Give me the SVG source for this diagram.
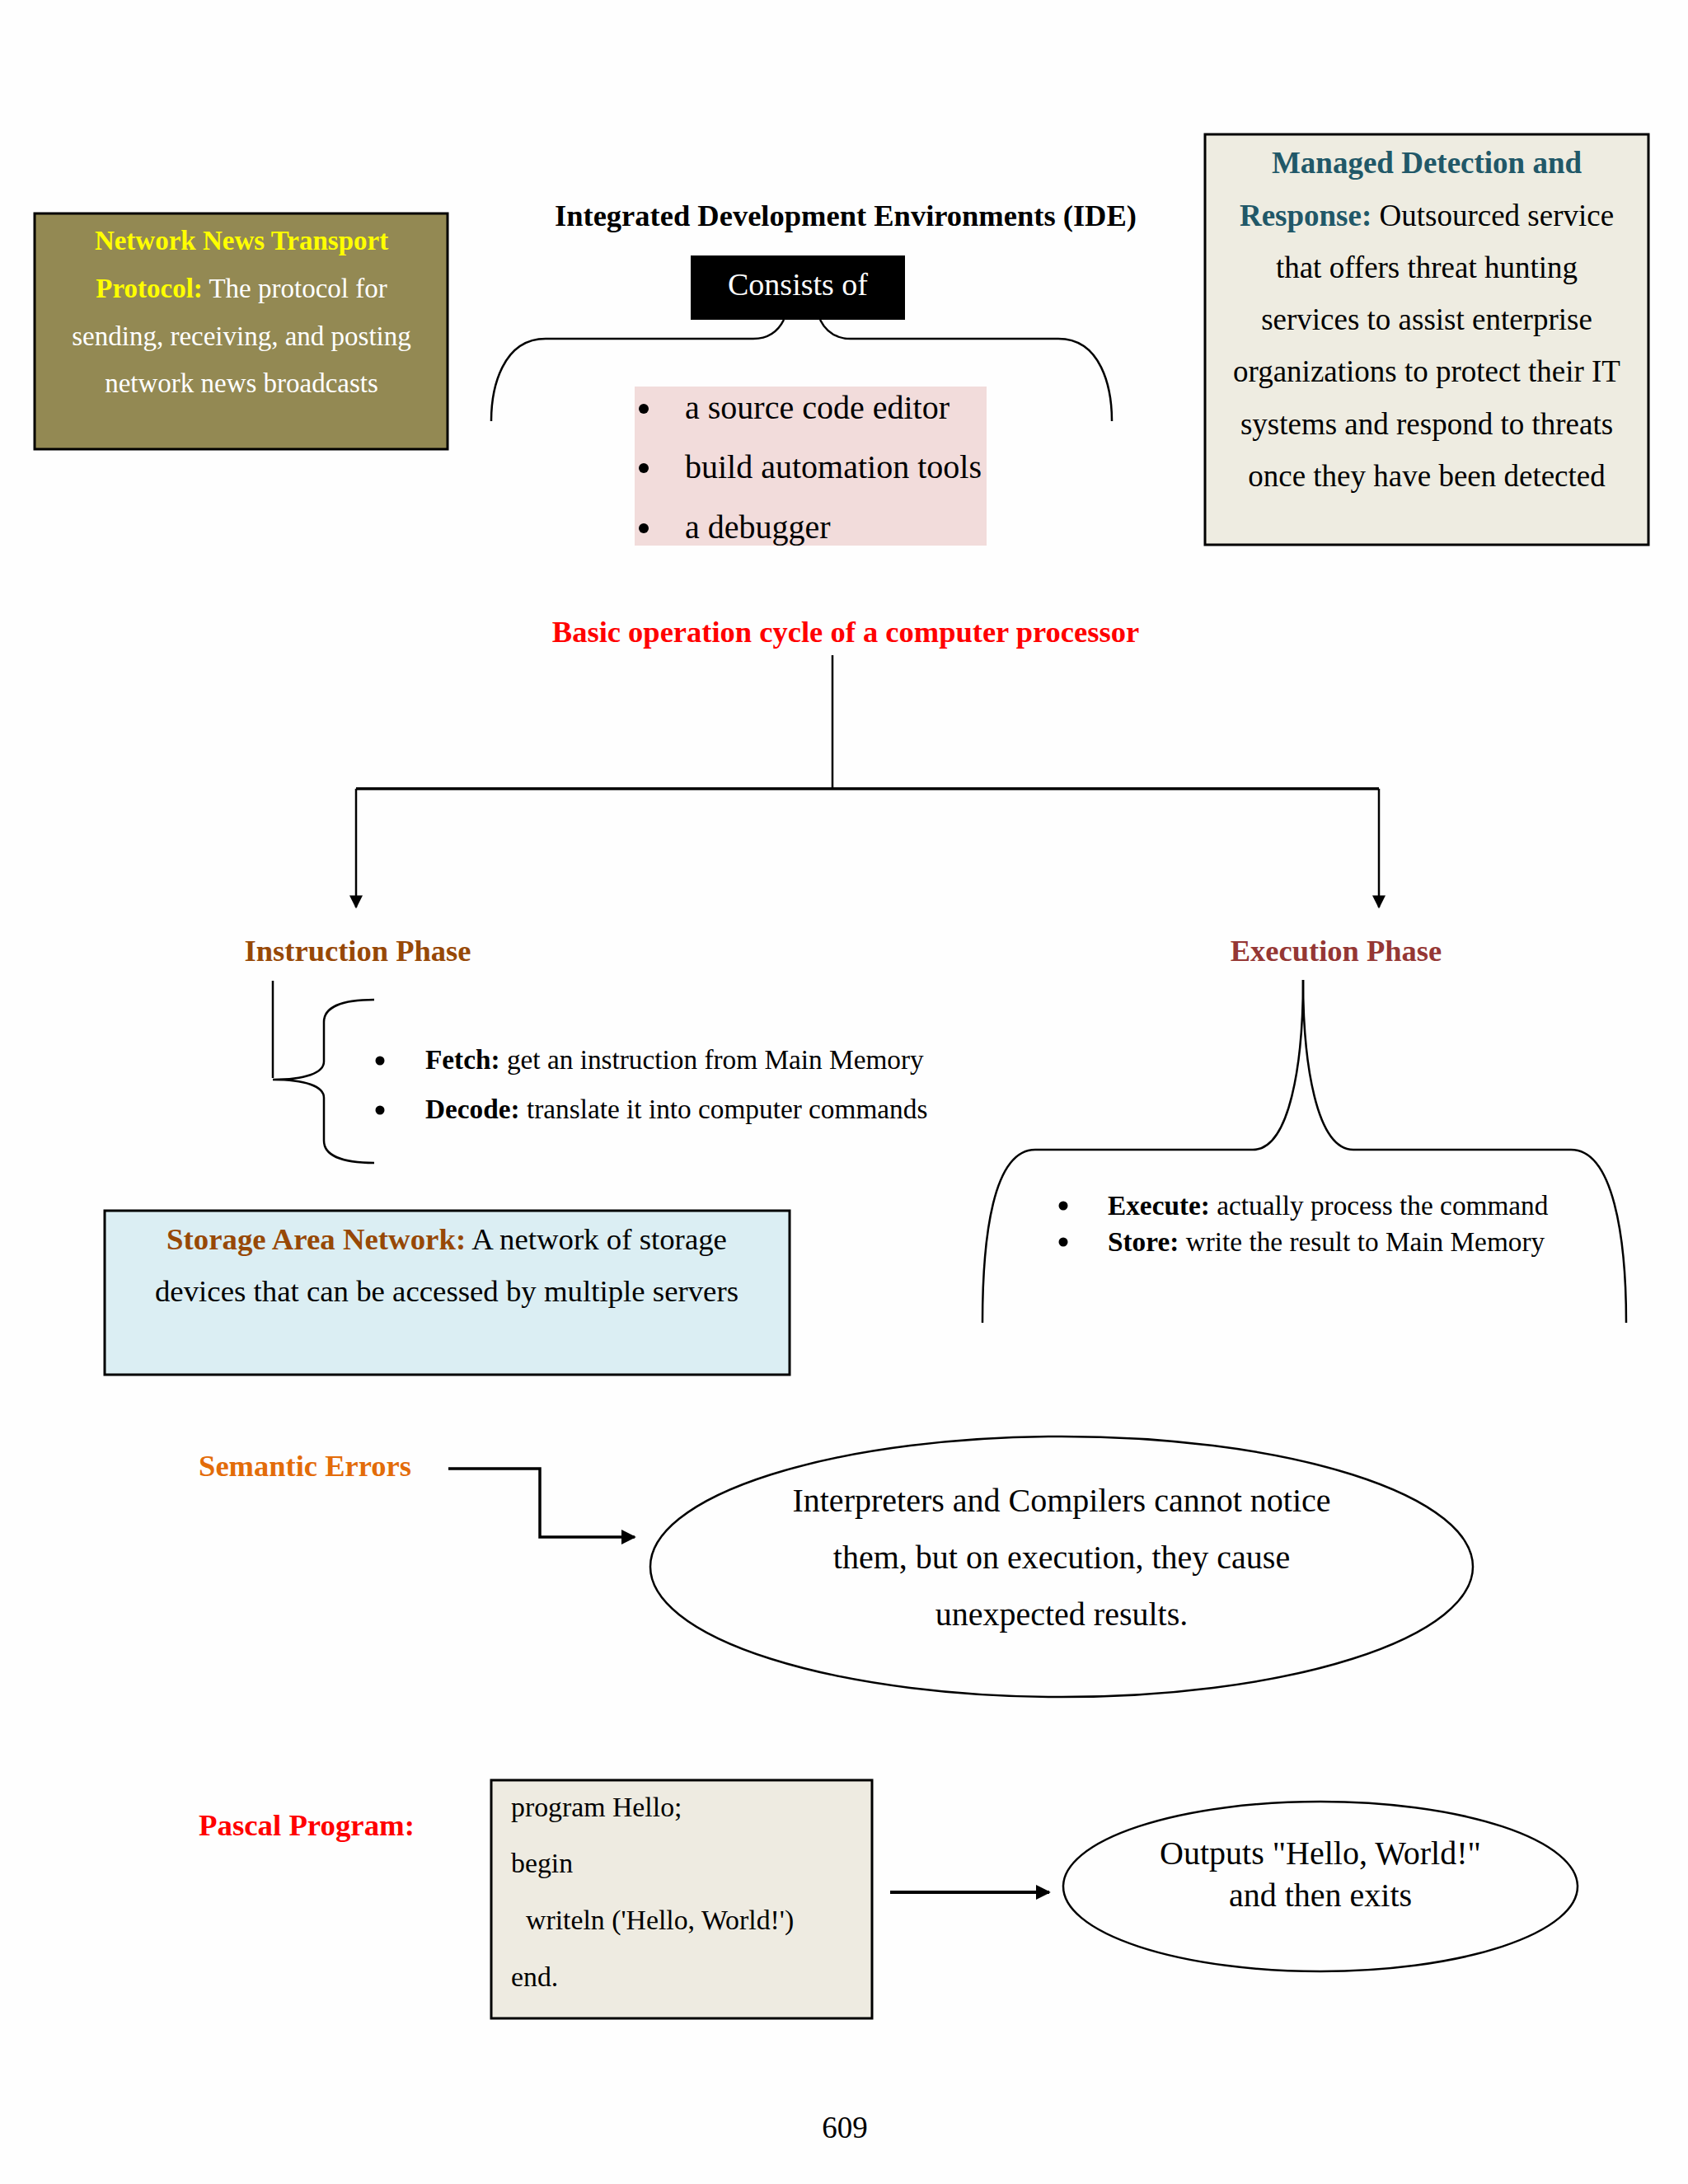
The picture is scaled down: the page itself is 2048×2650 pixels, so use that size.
<svg xmlns="http://www.w3.org/2000/svg" width="2048" height="2650" viewBox="0 0 2048 2650">
<defs>
<style>
text{font-family:"Liberation Serif","Times New Roman",serif;fill:#000}
.b{font-weight:bold}
.box{stroke:#000;stroke-width:3}
.ln{fill:none;stroke:#000;stroke-width:2.5}
.c{text-anchor:middle}
</style>
<marker id="ah" viewBox="0 0 10 10" refX="9" refY="5" markerWidth="22" markerHeight="16" markerUnits="userSpaceOnUse" orient="auto">
<path d="M0,0 L10,5 L0,10 Z" fill="#000"/>
</marker>
<marker id="ah2" viewBox="0 0 10 10" refX="9" refY="5" markerWidth="18" markerHeight="18" markerUnits="userSpaceOnUse" orient="auto">
<path d="M0,0 L10,5 L0,10 Z" fill="#000"/>
</marker>
</defs>
<rect width="2048" height="2650" fill="#fefefe"/>

<g id="nntp">
<rect class="box" x="42" y="259" width="501" height="286" fill="#938953"/>
<text class="c" x="293" y="303" font-size="33"><tspan class="b" style="fill:#ffff00">Network News Transport</tspan></text>
<text class="c" x="293" y="361" font-size="33"><tspan class="b" style="fill:#ffff00">Protocol:</tspan><tspan style="fill:#fff"> The protocol for</tspan></text>
<text class="c" x="293" y="419" font-size="33" style="fill:#fff">sending, receiving, and posting</text>
<text class="c" x="293" y="476" font-size="33" style="fill:#fff">network news broadcasts</text>
</g>

<g id="ide">
<text class="c b" x="1026" y="274" font-size="36.5">Integrated Development Environments (IDE)</text>
<rect x="838" y="310" width="260" height="78" fill="#000"/>
<text class="c" x="968" y="358" font-size="38" style="fill:#fff">Consists of</text>
<path class="ln" d="M596,511 C596,470 610,411 662,411 L914,411 C935,411 945,400 951,388"/>
<path class="ln" d="M995,388 C1001,400 1011,411 1032,411 L1284,411 C1336,411 1349,470 1349,511"/>
<rect x="770" y="469" width="427" height="193" fill="#f2dcdb"/>
<g font-size="40">
<circle cx="781" cy="496" r="6"/><text x="831" y="508">a source code editor</text>
<circle cx="781" cy="568" r="6"/><text x="831" y="580">build automation tools</text>
<circle cx="781" cy="641" r="6"/><text x="831" y="653">a debugger</text>
</g>
</g>

<g id="mdr">
<rect class="box" x="1462" y="163" width="538" height="498" fill="#eeece1"/>
<g font-size="37">
<text class="c b" x="1731" y="210" style="fill:#215868">Managed Detection and</text>
<text class="c" x="1731" y="274"><tspan class="b" style="fill:#215868">Response:</tspan> Outsourced service</text>
<text class="c" x="1731" y="337">that offers threat hunting</text>
<text class="c" x="1731" y="400">services to assist enterprise</text>
<text class="c" x="1731" y="463">organizations to protect their IT</text>
<text class="c" x="1731" y="527">systems and respond to threats</text>
<text class="c" x="1731" y="590">once they have been detected</text>
</g>
</g>

<g id="cycle">
<text class="c b" x="1026" y="779" font-size="36.5" style="fill:#ff0000">Basic operation cycle of a computer processor</text>
</g>

<g id="instruction">
<text class="c b" x="434" y="1166" font-size="36.5" style="fill:#974806">Instruction Phase</text>
<path class="ln" d="M331,1190 L331,1308"/>
<path class="ln" d="M454,1213 C415,1213 393,1222 393,1240 L393,1288 C393,1302 370,1310 331,1310 C370,1310 393,1318 393,1332 L393,1384 C393,1402 415,1411 454,1411"/>
<g font-size="33.3">
<circle cx="461" cy="1287" r="5.5"/><text x="516" y="1297"><tspan class="b">Fetch:</tspan> get an instruction from Main Memory</text>
<circle cx="461" cy="1347" r="5.5"/><text x="516" y="1357"><tspan class="b">Decode:</tspan> translate it into computer commands</text>
</g>
</g>

<g id="execution">
<text class="c b" x="1621" y="1166" font-size="36.5" style="fill:#953734">Execution Phase</text>
<path class="ln" d="M1581,1189 C1581,1290 1565,1395 1520,1395 L1256,1395 C1205,1395 1192,1500 1192,1605"/>
<path class="ln" d="M1581,1189 C1581,1290 1597,1395 1642,1395 L1906,1395 C1957,1395 1973,1500 1973,1605"/>
<g font-size="33.3">
<circle cx="1290" cy="1463" r="5.5"/><text x="1344" y="1474"><tspan class="b">Execute:</tspan> actually process the command</text>
<circle cx="1290" cy="1507" r="5.5"/><text x="1344" y="1518"><tspan class="b">Store:</tspan> write the result to Main Memory</text>
</g>
</g>

<g id="san">
<rect class="box" x="127" y="1469" width="831" height="199" fill="#dbeef3"/>
<text class="c" x="542" y="1516" font-size="36.8"><tspan class="b" style="fill:#974806">Storage Area Network:</tspan> A network of storage</text>
<text class="c" x="542" y="1579" font-size="36.8">devices that can be accessed by multiple servers</text>
</g>

<g id="semantic">
<text class="c b" x="370" y="1791" font-size="36.5" style="fill:#e36c09">Semantic Errors</text>
</g>

<g id="interp">
<ellipse cx="1288" cy="1901" rx="499" ry="158" fill="none" stroke="#000" stroke-width="2.5"/>
<text class="c" x="1288" y="1834" font-size="40">Interpreters and Compilers cannot notice</text>
<text class="c" x="1288" y="1903" font-size="40">them, but on execution, they cause</text>
<text class="c" x="1288" y="1972" font-size="40">unexpected results.</text>
</g>

<g id="pascal">
<text class="c b" x="372" y="2227" font-size="36.8" style="fill:#ff0000">Pascal Program:</text>
</g>

<g id="code">
<rect x="596" y="2160" width="462" height="289" fill="#eeebe1" stroke="#000" stroke-width="3"/>
<g font-size="33.8">
<text x="620" y="2204">program Hello;</text>
<text x="620" y="2272">begin</text>
<text x="638" y="2341">writeln ('Hello, World!')</text>
<text x="620" y="2410">end.</text>
</g>
</g>

<g id="output">
<ellipse cx="1602" cy="2289" rx="312" ry="103" fill="none" stroke="#000" stroke-width="2.5"/>
<text class="c" x="1602" y="2262" font-size="40">Outputs "Hello, World!"</text>
<text class="c" x="1602" y="2313" font-size="40">and then exits</text>
</g>

<g id="connectors">
<path class="ln" d="M1010,795 L1010,957"/>
<path d="M432,957 L1673,957" fill="none" stroke="#000" stroke-width="3.5"/>
<path class="ln" d="M432,957 L432,1101" marker-end="url(#ah)"/>
<path class="ln" d="M1673,957 L1673,1101" marker-end="url(#ah)"/>
<path d="M544,1782 L655,1782 L655,1865 L770,1865" fill="none" stroke="#000" stroke-width="3.5" marker-end="url(#ah2)"/>
<path d="M1080,2296 L1273,2296" fill="none" stroke="#000" stroke-width="4" marker-end="url(#ah2)"/>
</g>

<text class="c" x="1025" y="2594" font-size="37">609</text>
</svg>
